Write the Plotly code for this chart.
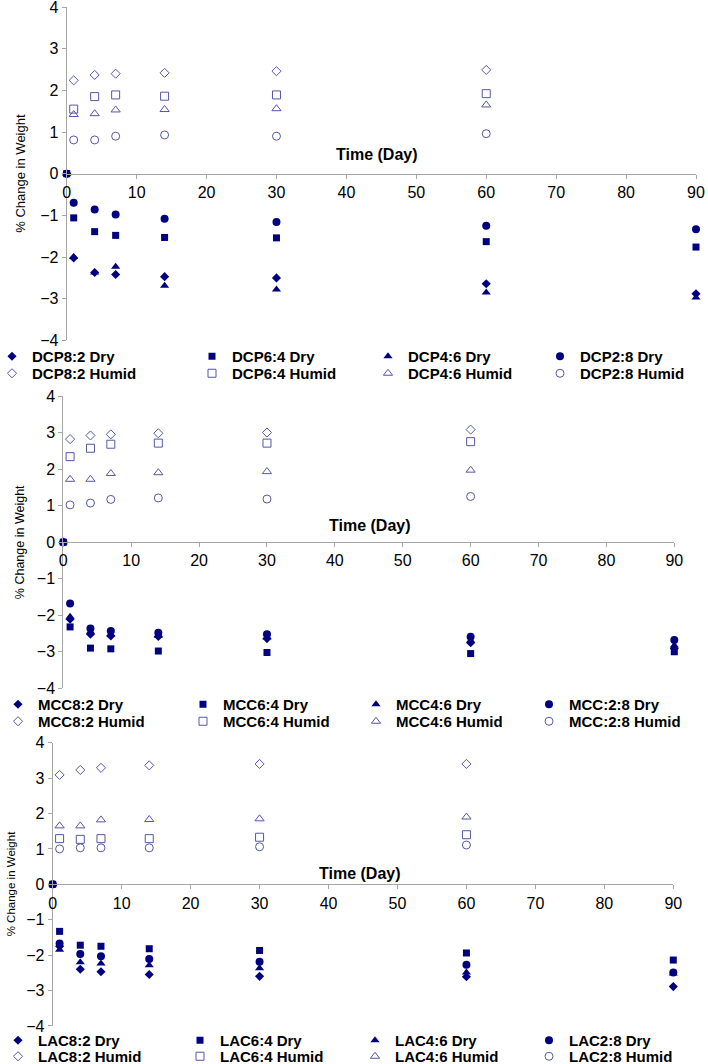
import plotly.graph_objects as go

# ---------------- data ----------------
dry_days = [0, 1, 4, 7, 14, 30, 60, 90]
humid_days = [1, 4, 7, 14, 30, 60]

# Panel 1 : DCP
dcp_names = ["DCP8:2", "DCP6:4", "DCP4:6", "DCP2:8"]
dcp_dry = [
    [0, -2.02, -2.37, -2.42, -2.47, -2.50, -2.64, -2.88],
    [0, -1.06, -1.39, -1.48, -1.53, -1.54, -1.63, -1.76],
    [0, -2.00, -2.37, -2.23, -2.69, -2.78, -2.85, -2.97],
    [0, -0.70, -0.86, -0.98, -1.08, -1.16, -1.25, -1.33],
]
dcp_humid = [
    [2.24, 2.37, 2.40, 2.42, 2.46, 2.49],
    [1.55, 1.85, 1.89, 1.86, 1.89, 1.92],
    [1.42, 1.44, 1.53, 1.54, 1.56, 1.65],
    [0.81, 0.81, 0.90, 0.93, 0.90, 0.96],
]

# Panel 2 : MCC
mcc_names = ["MCC8:2", "MCC6:4", "MCC4:6", "MCC:2:8"]
mcc_dry = [
    [0, -2.11, -2.52, -2.57, -2.58, -2.64, -2.75, -2.91],
    [0, -2.32, -2.90, -2.92, -2.98, -3.02, -3.05, -3.00],
    [0, -2.04, -2.45, -2.52, -2.56, -2.61, -2.69, -2.83],
    [0, -1.68, -2.36, -2.43, -2.48, -2.52, -2.59, -2.68],
]
mcc_humid = [
    [2.82, 2.92, 2.95, 2.98, 3.00, 3.08],
    [2.34, 2.57, 2.68, 2.71, 2.71, 2.75],
    [1.72, 1.72, 1.88, 1.90, 1.93, 1.97],
    [1.02, 1.07, 1.17, 1.21, 1.18, 1.25],
]

# Panel 3 : LAC
lac_names = ["LAC8:2", "LAC6:4", "LAC4:6", "LAC2:8"]
lac_dry = [
    [0, -1.75, -2.40, -2.47, -2.55, -2.60, -2.61, -2.89],
    [0, -1.33, -1.72, -1.75, -1.82, -1.87, -1.94, -2.14],
    [0, -1.85, -2.20, -2.24, -2.29, -2.37, -2.49, -2.52],
    [0, -1.67, -1.97, -2.03, -2.11, -2.19, -2.27, -2.49],
]
lac_humid = [
    [3.09, 3.23, 3.29, 3.36, 3.40, 3.40],
    [1.29, 1.27, 1.29, 1.29, 1.33, 1.40],
    [1.65, 1.65, 1.82, 1.83, 1.85, 1.90],
    [1.00, 1.03, 1.03, 1.03, 1.06, 1.11],
]

x_tickvals = [0, 10, 20, 30, 40, 50, 60, 70, 80, 90]
y_tickvals = [-4, -3, -2, -1, 0, 1, 2, 3, 4]
x_title = "Time (Day)"
y_title = "% Change in Weight"

# ---------------- style ----------------
W, H = 708, 1064
DRY_COLOR = "#000080"
HUMID_COLOR = "#5656A8"
AXIS_COLOR = "#A6A6A6"
FONT = "Liberation Sans, Arial, sans-serif"

dry_symbols = ["diamond", "square", "triangle-up", "circle"]
dry_sizes = [7, 7, 8, 8]
humid_symbols = ["diamond-open", "square-open", "triangle-up-open", "circle-open"]
humid_sizes = [7, 8, 8, 8]
# drawing order of the dry series (square last so it shows on top at day 0)
dry_draw_order = [0, 2, 3, 1]

# panel geometry in pixels: (x_left, x_right, y_top(=4), y_bottom(=-4))
panels_px = [
    (66.7, 696.0, 7.0, 340.4),
    (63.3, 674.3, 396.0, 688.3),
    (52.7, 673.3, 742.7, 1025.9),
]
# legend layout: symbol x of each column, and row centres (dry row, humid row)
legend_cols_px = [(12, 212, 388, 560), (18, 203, 376, 549), (18, 200, 375, 549)]
legend_rows_px = [(356, 373), (704, 721), (1040, 1056)]
ytitle_x_px = [21, 20, 11]
ytitle_size = [13, 12.5, 11.5]
xtitle_px = [(377, 154), (370, 525), (360, 873)]

fig = go.Figure()

panels = [
    (dcp_names, dcp_dry, dcp_humid),
    (mcc_names, mcc_dry, mcc_humid),
    (lac_names, lac_dry, lac_humid),
]


def lname(idx):
    return "legend" if idx == 1 else f"legend{idx}"


for p, (names, dry, humid) in enumerate(panels):
    xa = "x" if p == 0 else f"x{p+1}"
    ya = "y" if p == 0 else f"y{p+1}"
    for i in dry_draw_order:
        fig.add_trace(go.Scatter(
            x=dry_days, y=dry[i], mode="markers", name=f"{names[i]} Dry",
            xaxis=xa, yaxis=ya, legend=lname(p * 8 + i + 1), cliponaxis=False,
            marker=dict(symbol=dry_symbols[i], size=dry_sizes[i], color=DRY_COLOR,
                        line=dict(width=0)),
        ))
    for i in range(4):
        fig.add_trace(go.Scatter(
            x=humid_days, y=humid[i], mode="markers", name=f"{names[i]} Humid",
            xaxis=xa, yaxis=ya, legend=lname(p * 8 + 4 + i + 1), cliponaxis=False,
            marker=dict(symbol=humid_symbols[i], size=humid_sizes[i], color=HUMID_COLOR,
                        line=dict(width=1, color=HUMID_COLOR)),
        ))

layout = dict(
    width=W, height=H,
    margin=dict(l=0, r=0, t=0, b=0, autoexpand=False),
    paper_bgcolor="white", plot_bgcolor="white",
    font=dict(family=FONT, size=15, color="black"),
    showlegend=True,
    annotations=[],
)

for p, (xl, xr, yt, yb) in enumerate(panels_px):
    xk = "xaxis" if p == 0 else f"xaxis{p+1}"
    yk = "yaxis" if p == 0 else f"yaxis{p+1}"
    xa = "x" if p == 0 else f"x{p+1}"
    ydom = [1 - yb / H, 1 - yt / H]
    xdom = [xl / W, xr / W]
    layout[xk] = dict(
        domain=xdom, range=[0, 90], anchor="free",
        position=(ydom[0] + ydom[1]) / 2,
        tickvals=x_tickvals, showgrid=False, zeroline=False,
        showline=True, linecolor=AXIS_COLOR, linewidth=1,
        ticks="outside", ticklen=4, tickcolor=AXIS_COLOR,
        tickfont=dict(size=16, family=FONT, color="black"),
        automargin=False, ticklabeloverflow="allow",
    )
    layout[yk] = dict(
        domain=ydom, range=[-4, 4], anchor=xa,
        tickvals=y_tickvals, showgrid=False, zeroline=False,
        showline=True, linecolor=AXIS_COLOR, linewidth=1,
        ticks="outside", ticklen=4, tickcolor=AXIS_COLOR,
        tickfont=dict(size=16, family=FONT, color="black"),
        automargin=False, ticklabeloverflow="allow",
    )
    for r in range(2):
        for c in range(4):
            layout[lname(p * 8 + r * 4 + c + 1)] = dict(
                orientation="h",
                x=(legend_cols_px[p][c] - 5) / W, xanchor="left",
                y=1 - (legend_rows_px[p][r] - 16) / H, yanchor="top",
                indentation=-15,
                font=dict(family=FONT, size=15, color="black", weight="bold"),
                bgcolor="rgba(0,0,0,0)", itemclick=False, itemdoubleclick=False,
            )
    layout["annotations"].append(dict(
        text=y_title, textangle=-90, xref="paper", yref="paper",
        x=ytitle_x_px[p] / W, y=(ydom[0] + ydom[1]) / 2,
        xanchor="center", yanchor="middle", showarrow=False,
        font=dict(family=FONT, size=ytitle_size[p], color="black"),
    ))
    tx, ty = xtitle_px[p]
    layout["annotations"].append(dict(
        text="<b>" + x_title + "</b>", xref="paper", yref="paper",
        x=tx / W, y=1 - ty / H, xanchor="center", yanchor="middle",
        showarrow=False, font=dict(family=FONT, size=16, color="black"),
    ))

fig.update_layout(**layout)
fig.write_html("out.html", config={"displayModeBar": False},
               post_script="document.body.style.margin='0';document.body.style.padding='0';")
